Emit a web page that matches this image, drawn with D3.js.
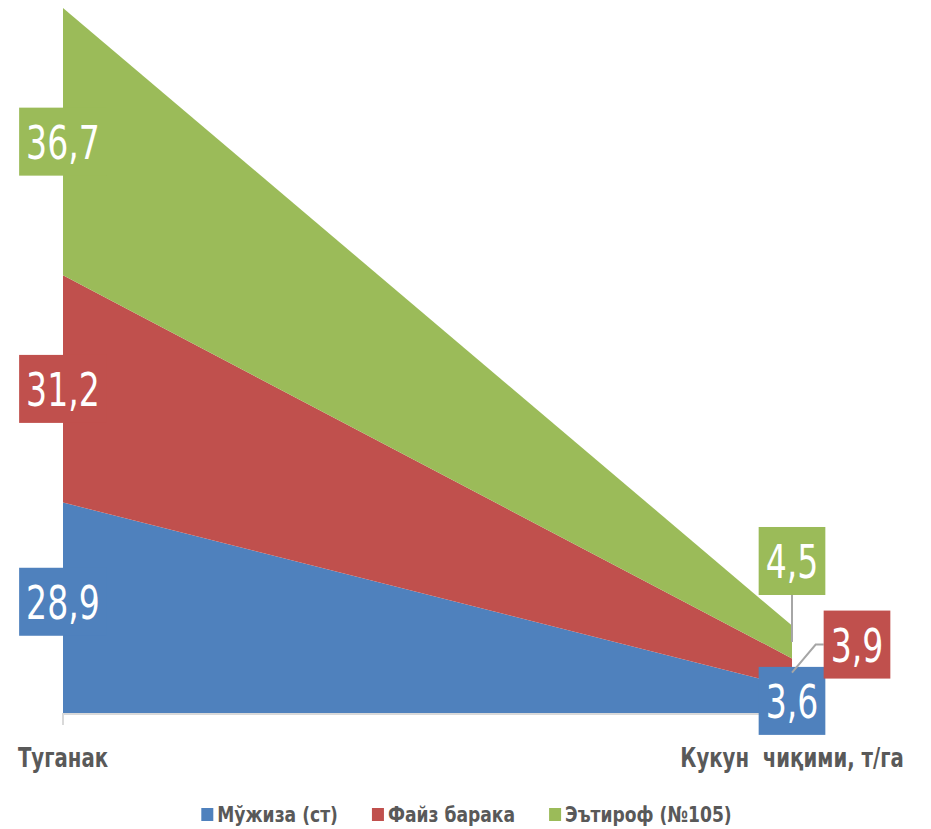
<!DOCTYPE html>
<html>
<head>
<meta charset="utf-8">
<script src="https://cdn.jsdelivr.net/npm/d3@7"></script>
<style>
  body { margin: 0; background: #fff; }
  svg text { font-family: "DejaVu Sans", sans-serif; }
</style>
</head>
<body>
<div id="chart"></div>
<script>
const categories = ['Туганак', 'Кукун  чиқими, т/га'];
const seriesNames = ['Мўжиза (ст)', 'Файз барака', 'Эътироф (№105)'];
const muzhiza = [28.9, 3.6];
const fayzBaraka = [31.2, 3.9];
const etirof = [36.7, 4.5];
const colors = ['#4f81bd', '#c0504d', '#9bbb59'];

const width = 931, height = 829;
const margin = {top: 8, right: 139, bottom: 116, left: 63};
const squeeze = 0.72; // the original text is set in a narrow face

const rows = categories.map((c, i) => ({
  cat: c,
  [seriesNames[0]]: muzhiza[i],
  [seriesNames[1]]: fayzBaraka[i],
  [seriesNames[2]]: etirof[i]
}));

const layers = d3.stack().keys(seriesNames)(rows);

const x = d3.scalePoint()
  .domain(categories)
  .range([margin.left, width - margin.right]);

const y = d3.scaleLinear()
  .domain([0, d3.max(layers[layers.length - 1], d => d[1])])
  .range([height - margin.bottom, margin.top]);

const svg = d3.select('#chart')
  .append('svg')
  .attr('width', width)
  .attr('height', height);

const area = d3.area()
  .x(d => x(d.data.cat))
  .y0(d => y(d[0]))
  .y1(d => y(d[1]));

svg.selectAll('path.layer')
  .data(layers)
  .enter()
  .append('path')
  .attr('class', 'layer')
  .attr('fill', (d, i) => colors[i])
  .attr('d', area);

// axis
const axisY = y(0);
svg.append('line')
  .attr('x1', x(categories[0])).attr('x2', x(categories[1]))
  .attr('y1', axisY + 1).attr('y2', axisY + 1)
  .attr('stroke', '#d9d9d9').attr('stroke-width', 2);
svg.selectAll('line.tick')
  .data(categories)
  .enter()
  .append('line')
  .attr('class', 'tick')
  .attr('x1', d => x(d)).attr('x2', d => x(d))
  .attr('y1', axisY).attr('y2', axisY + 12)
  .attr('stroke', '#d9d9d9').attr('stroke-width', 2);

svg.selectAll('g.cat')
  .data(categories)
  .enter()
  .append('g')
  .attr('class', 'cat')
  .attr('transform', d => `translate(${x(d)},${axisY + 54}) scale(0.73,1)`)
  .append('text')
  .attr('text-anchor', 'middle')
  .attr('font-size', 27)
  .attr('font-weight', 'bold')
  .attr('fill', '#595959')
  .style('white-space', 'pre')
  .text(d => d);

// data labels: pixel offsets from the segment middle (second category is crowded)
const labelOffsets = [
  [[0, -6], [0, 0], [0, 0]],
  [[0, 1], [65, -28], [0, -81]]
];

const labels = [];
layers.forEach((layer, si) => {
  layer.forEach((d, ci) => {
    const cx = x(d.data.cat);
    const cy = (y(d[0]) + y(d[1])) / 2;
    const off = labelOffsets[ci][si];
    labels.push({
      value: d.data[seriesNames[si]],
      color: colors[si],
      px: cx, py: cy,
      lx: cx + off[0], ly: cy + off[1],
      moved: Math.abs(off[0]) > 20 || Math.abs(off[1]) > 20
    });
  });
});

const boxH = 68;
const lbl = svg.selectAll('g.lbl')
  .data(labels)
  .enter()
  .append('g')
  .attr('class', 'lbl');

lbl.each(function(d) {
  const g = d3.select(this);
  const tg = g.append('g')
    .attr('transform', `translate(${d.lx},${d.ly + 17}) scale(${squeeze},1)`);
  const t = tg.append('text')
    .attr('text-anchor', 'middle')
    .attr('font-size', 46)
    .attr('fill', '#fff')
    .text(d3.format('.1f')(d.value).replace('.', ','));
  const w = t.node().getComputedTextLength() * squeeze + 14;
  d.boxW = w;
  g.insert('rect', 'g')
    .attr('x', d.lx - w / 2)
    .attr('y', d.ly - boxH / 2)
    .attr('width', w)
    .attr('height', boxH)
    .attr('fill', d.color);
});

// leader lines
lbl.filter(d => d.moved)
  .insert('polyline', 'rect')
  .attr('fill', 'none')
  .attr('stroke', '#a6a6a6')
  .attr('stroke-width', 2)
  .attr('points', d => {
    if (Math.abs(d.lx - d.px) > 20) {
      const bx = d.lx - d.boxW / 2;
      return `${bx},${d.ly} ${bx - 8},${d.ly} ${d.px},${d.py}`;
    }
    if (d.ly < d.py) return `${d.px},${d.ly + boxH / 2} ${d.px},${d.py}`;
    return `${d.px},${d.ly - boxH / 2} ${d.px},${d.py}`;
  });

// legend
const legend = svg.append('g').attr('class', 'legend');
const items = legend.selectAll('g')
  .data(seriesNames)
  .enter()
  .append('g');
items.append('rect')
  .attr('width', 12).attr('height', 13)
  .attr('y', 808)
  .attr('fill', (d, i) => colors[i]);
items.append('g')
  .attr('transform', `translate(16,822) scale(0.78,1)`)
  .append('text')
  .attr('font-size', 22)
  .attr('fill', '#595959')
  .attr('font-weight', 'bold')
  .text(d => d);
let lx = 0;
items.each(function() {
  const g = d3.select(this);
  g.attr('transform', `translate(${lx},0)`);
  lx += this.getBBox().width + 34;
});
const totalW = lx - 34;
legend.attr('transform', `translate(${(width - totalW) / 2 + 1},0)`);
</script>
</body>
</html>
